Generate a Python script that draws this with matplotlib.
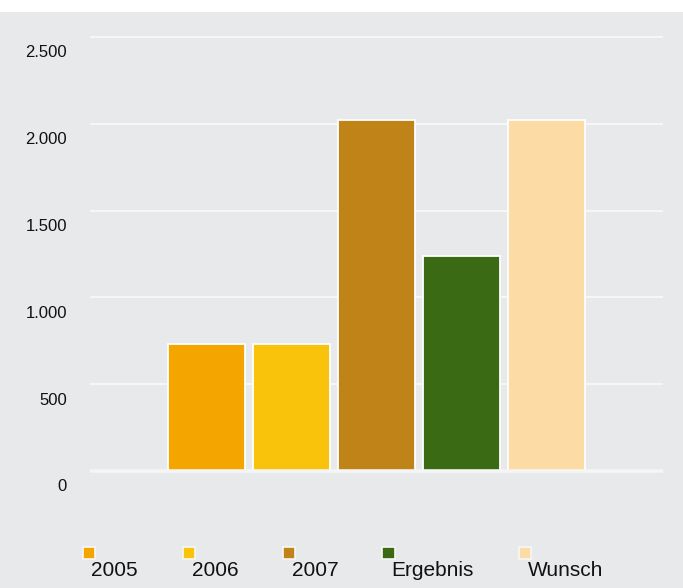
import matplotlib
matplotlib.use("Agg")
import matplotlib.pyplot as plt
from matplotlib.patches import Rectangle
from matplotlib.transforms import ScaledTranslation
from matplotlib.ticker import FuncFormatter

plt.rcParams['font.family'] = ['Liberation Sans', 'DejaVu Sans']

kategorien = ["2005", "2006", "2007", "Ergebnis", "Wunsch"]
werte = [730, 730, 2020, 1240, 2020]
farben = ["#f4a500", "#f9c30c", "#c08317", "#3a6b14", "#fcdca4"]
y_ticks = [0, 500, 1000, 1500, 2000, 2500]

W, H = 683, 588
bg = "#e8e9eb"
fig = plt.figure(figsize=(W / 100, H / 100), dpi=100, facecolor=bg)

# weisser Streifen oben
fig.patches.append(Rectangle((0, 1 - 12 / H), 1, 12 / H, transform=fig.transFigure,
                             facecolor="white", edgecolor="none", zorder=0))

ax = fig.add_axes([90 / W, (H - 480) / H, 573 / W, 450 / H])
ax.set_facecolor(bg)

x = list(range(len(kategorien)))
ax.bar(x, werte, width=0.9, color=farben, edgecolor="white", linewidth=1.3, zorder=2)

ax.set_xlim(-1.368, len(kategorien) - 1 + 1.368)
ax.set_ylim(-52, 2540)
ax.set_yticks(y_ticks)
ax.yaxis.set_major_formatter(FuncFormatter(lambda v, p: f"{int(v):,}".replace(",", ".")))
ax.set_xticks([])
ax.grid(axis="y", color="#f7f7f8", linewidth=1.4, zorder=1)
ax.axhline(0, color="#f5f5f6", linewidth=2.6, zorder=3)
for s in ax.spines.values():
    s.set_visible(False)
ax.tick_params(axis="y", length=0, pad=16.5, labelsize=12, labelcolor="#111111")
off = ScaledTranslation(0, -14.5 / 100, fig.dpi_scale_trans)
for lab in ax.get_yticklabels():
    lab.set_transform(lab.get_transform() + off)

# Legende
leg_x = [82.5, 182.6, 282.6, 382.3, 518.7]
for xi, name, c in zip(leg_x, kategorien, farben):
    fig.patches.append(Rectangle((xi / W, (H - 559) / H), 12.5 / W, 12.5 / H,
                                 transform=fig.transFigure, facecolor=c,
                                 edgecolor="#f7f7f7", linewidth=1.2))
    fig.text((xi + 9) / W, (H - 576) / H, name, fontsize=15, color="#111111",
             ha="left", va="baseline")

fig.savefig("out.png", dpi=100, facecolor=bg)
